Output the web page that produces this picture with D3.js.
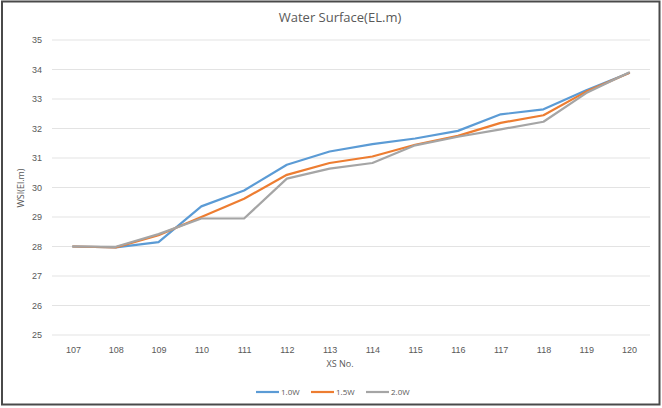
<!DOCTYPE html>
<html><head><meta charset="utf-8">
<script src="https://cdn.jsdelivr.net/npm/d3@7"></script>
<style>body{margin:0;background:#fff}svg{display:block;font-family:"Open Sans","Noto Sans",sans-serif}</style>
</head><body><svg id="c" width="662" height="408"></svg>
<script>
const categories = [107,108,109,110,111,112,113,114,115,116,117,118,119,120];
const s10 = [28.0,27.97,28.15,29.36,29.9,30.77,31.22,31.47,31.66,31.92,32.48,32.65,33.3,33.88];
const s15 = [28.0,27.97,28.38,29.0,29.62,30.43,30.83,31.05,31.45,31.75,32.19,32.45,33.25,33.88];
const s20 = [28.0,27.99,28.42,28.95,28.95,30.3,30.64,30.83,31.43,31.72,31.97,32.23,33.2,33.9];
const seriesNames = ["1.0W","1.5W","2.0W"];
const yTicks = [25,26,27,28,29,30,31,32,33,34,35];

const colors = ["#5b9bd5","#ed7d31","#a5a5a5"];
const svg = d3.select("#c");
svg.append("rect").attr("x",2).attr("y",1.5).attr("width",657.5).attr("height",403)
  .attr("fill","#fff").attr("stroke","#4a4a4a").attr("stroke-width",2);

const x = d3.scalePoint().domain(categories).range([73,629]);
const y = d3.scaleLinear().domain([25,35]).range([335,40]);

const g = svg.append("g");
g.selectAll("line.grid").data(yTicks).join("line").attr("class","grid")
  .attr("x1",52).attr("x2",650).attr("y1",d=>y(d)).attr("y2",d=>y(d))
  .attr("stroke","#e3e3e3").attr("stroke-width",1);

const yAxis = svg.append("g").attr("transform","translate(52,0)")
  .call(d3.axisLeft(y).tickValues(yTicks).tickSize(0).tickPadding(10));
yAxis.select(".domain").remove();
yAxis.selectAll("text").attr("fill","#595959").attr("font-size",9);

const xAxis = svg.append("g").attr("transform","translate(0,335)")
  .call(d3.axisBottom(x).tickSize(0).tickPadding(12));
xAxis.select(".domain").remove();
xAxis.selectAll("text").attr("fill","#595959").attr("font-size",9);

const data = [s10,s15,s20];
const line = d3.line().x((d,i)=>x(categories[i])).y(d=>y(d));
data.forEach((s,k)=>{
  svg.append("path").datum(s).attr("d",line).attr("fill","none")
    .attr("stroke",colors[k]).attr("stroke-width",2.2).attr("stroke-linejoin","round").attr("stroke-linecap","round");
});

svg.append("text").attr("x",340).attr("y",22).attr("text-anchor","middle")
  .attr("fill","#595959").attr("font-size",13).text("Water Surface(EL.m)");
svg.append("text").attr("x",340).attr("y",367).attr("text-anchor","middle")
  .attr("fill","#595959").attr("font-size",9).text("XS No.");
svg.append("text").attr("transform","translate(24,188) rotate(-90)").attr("text-anchor","middle")
  .attr("fill","#595959").attr("font-size",9).text("WSI(El.m)");

const lg = svg.append("g");
seriesNames.forEach((n,k)=>{
  const lx = 256 + k*55;
  lg.append("line").attr("x1",lx).attr("x2",lx+23).attr("y1",392).attr("y2",392)
    .attr("stroke",colors[k]).attr("stroke-width",2.2);
  lg.append("text").attr("x",lx+25).attr("y",395).attr("fill","#595959").attr("font-size",8).text(n);
});
</script></body></html>
